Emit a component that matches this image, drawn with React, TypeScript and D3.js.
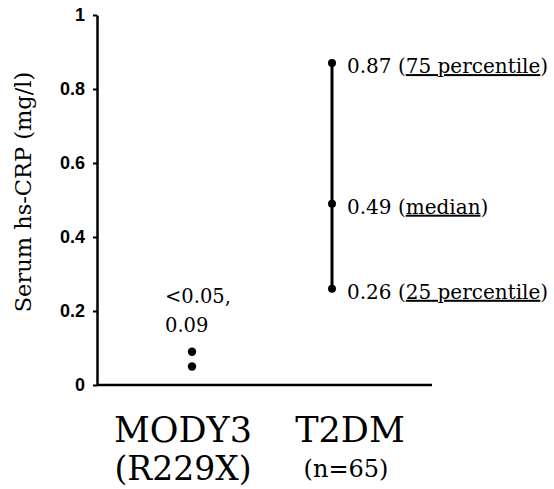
import React, { useRef, useEffect } from "react";
import * as d3 from "d3";

const categories = ["MODY3", "T2DM"];
const categorySubLabels = ["(R229X)", "(n=65)"];
const mody3Values = [0.05, 0.09];
const mody3Labels = ["<0.05,", "0.09"];
const t2dmValues = [0.26, 0.49, 0.87];
const t2dmPrefixes = ["0.26 (", "0.49 (", "0.87 ("];
const t2dmUnderlined = ["25 percentile", "median", "75 percentile"];
const yTicks = [0, 0.2, 0.4, 0.6, 0.8, 1];
const yTitle = "Serum hs-CRP (mg/l)";

const serif = "DejaVu Serif, serif";
const sans = "Liberation Sans, Arial, sans-serif";

const App = () => {
  const ref = useRef<SVGSVGElement | null>(null);

  const w = 554,
    h = 489,
    margin = { top: 15, right: 122, bottom: 104, left: 97 };

  useEffect(() => {
    const svg = d3.select(ref.current);
    svg.selectAll("*").remove();

    const y = d3
      .scaleLinear()
      .domain([0, 1])
      .range([h - margin.bottom, margin.top]);
    const x = d3.scalePoint().domain(categories).range([192, 332]);

    // y axis (line + ticks), labels drawn below
    const yAxis = svg
      .append("g")
      .attr("transform", `translate(${margin.left},0)`)
      .call(
        d3
          .axisLeft(y)
          .tickValues(yTicks)
          .tickFormat(() => "")
          .tickSize(4)
          .tickSizeOuter(0)
      );
    yAxis.select(".domain").attr("stroke", "#000").attr("stroke-width", 2.5);
    yAxis.selectAll(".tick line").attr("stroke", "#000").attr("stroke-width", 2);

    svg
      .append("g")
      .selectAll("text")
      .data(yTicks)
      .join("text")
      .attr("x", margin.left - 12)
      .attr("y", (d) => y(d))
      .attr("dy", "0.36em")
      .attr("text-anchor", "end")
      .style("font", `bold 18px ${sans}`)
      .attr("fill", "#000")
      .text((d) => d3.format("~g")(d));

    // x axis baseline
    svg
      .append("line")
      .attr("x1", margin.left)
      .attr("x2", w - margin.right)
      .attr("y1", y(0))
      .attr("y2", y(0))
      .attr("stroke", "#000")
      .attr("stroke-width", 2.5);

    // y title
    svg
      .append("text")
      .attr("transform", `translate(31,${192}) rotate(-90)`)
      .attr("text-anchor", "middle")
      .attr("font-family", serif)
      .attr("font-size", 22.5)
      .text(yTitle);

    // category labels
    const labelShift = [-9, 18];
    const subShift = [-9, 14];
    categories.forEach((c, i) => {
      svg
        .append("text")
        .attr("x", (x(c) as number) + labelShift[i])
        .attr("y", 442)
        .attr("text-anchor", "middle")
        .attr("font-family", serif)
        .attr("font-size", 35)
        .text(c);
      svg
        .append("text")
        .attr("x", (x(c) as number) + subShift[i])
        .attr("y", i === 0 ? 480 : 477)
        .attr("text-anchor", "middle")
        .attr("font-family", serif)
        .attr("font-size", i === 0 ? 33 : 24)
        .text(categorySubLabels[i]);
    });

    // MODY3 points
    const xm = x("MODY3") as number;
    svg
      .append("g")
      .selectAll("circle")
      .data(mody3Values)
      .join("circle")
      .attr("cx", xm)
      .attr("cy", (d) => y(d))
      .attr("r", 4.2)
      .attr("fill", "#000");
    svg
      .append("g")
      .selectAll("text")
      .data(mody3Labels)
      .join("text")
      .attr("x", 165)
      .attr("y", (_, i) => 303 + i * 29)
      .attr("font-family", serif)
      .attr("font-size", 19.5)
      .text((d) => d);

    // T2DM interquartile line
    const xt = x("T2DM") as number;
    svg
      .append("line")
      .attr("x1", xt)
      .attr("x2", xt)
      .attr("y1", y(d3.min(t2dmValues) as number))
      .attr("y2", y(d3.max(t2dmValues) as number))
      .attr("stroke", "#000")
      .attr("stroke-width", 3);
    svg
      .append("g")
      .selectAll("circle")
      .data(t2dmValues)
      .join("circle")
      .attr("cx", xt)
      .attr("cy", (d) => y(d))
      .attr("r", 4)
      .attr("fill", "#000");

    const labels = svg
      .append("g")
      .selectAll("text")
      .data(t2dmValues)
      .join("text")
      .attr("x", xt + 15)
      .attr("y", (d) => y(d) + 10)
      .attr("font-family", serif)
      .attr("font-size", 20);
    labels.append("tspan").text((_, i) => t2dmPrefixes[i]);
    labels
      .append("tspan")
      .attr("text-decoration", "underline")
      .text((_, i) => t2dmUnderlined[i]);
    labels.append("tspan").text(")");
  }, []);

  return (
    <svg
      ref={ref}
      width={w}
      height={h}
      style={{ position: "absolute", left: 0, top: 0, background: "#fff" }}
    ></svg>
  );
};

export default App;
